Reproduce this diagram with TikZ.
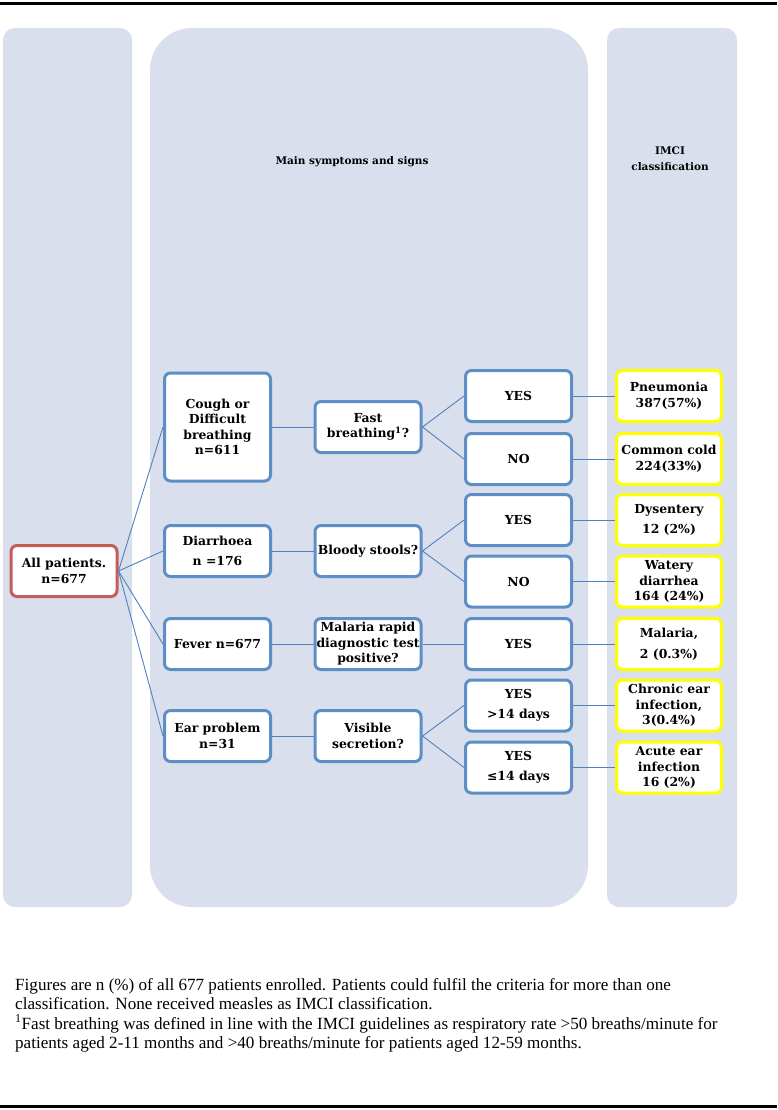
\documentclass[tikz,border=0pt]{standalone}
\usepackage{fontspec}
\setmainfont{Liberation Serif}
\newfontfamily\boxfont{DejaVu Serif}
\usetikzlibrary{positioning}
\definecolor{panelGrey}{RGB}{217,223,236}
\definecolor{boxBlue}{RGB}{93,142,198}
\definecolor{lineBlue}{RGB}{79,129,189}
\definecolor{rootRed}{RGB}{196,92,88}
\definecolor{classYellow}{RGB}{255,255,0}

\begin{document}
\begin{tikzpicture}[
  x=1pt, y=-1pt,
  panel/.style={fill=panelGrey},
  box/.style={draw=boxBlue, line width=3pt, fill=white, rounded corners=6pt,
    minimum width=106pt, minimum height=51pt, align=center, inner sep=1pt,
    font=\boxfont\bfseries\fontsize{12.4}{15.5}\selectfont},
  rootbox/.style={box, draw=rootRed},
  classbox/.style={box, draw=classYellow, minimum width=105pt},
  link/.style={draw=lineBlue, line width=0.9pt},
  head/.style={font=\boxfont\bfseries\fontsize{10.5}{16}\selectfont, align=center},
]
\useasboundingbox (0,0) rectangle (777,1110);

% --- Rules and background panels ------------------------------------
\draw[line width=3pt] (0,3.5) -- (777,3.5);
\draw[line width=3pt] (0,1106) -- (777,1106);
\fill[panel, rounded corners=12pt] (3,28) rectangle (132,907);
\fill[panel, rounded corners=42pt] (150,28) rectangle (588,907);
\fill[panel, rounded corners=12pt] (607,28) rectangle (737,907);

\node[head] (symHead) at (352,162) {Main symptoms and signs};
\node[head] (imciHead) at (670,159) {IMCI\\classification};

% --- Root and main symptoms ------------------------------------------
\node[rootbox] (root) at (64,571) {All patients.\\n=677};

\node[box, minimum height=108pt] (cough) at (217.5,427) {Cough or\\Difficult\\breathing\\n=611};
\node[box] (diar)  at (217.5,551) {Diarrhoea\\[5pt]n =176};
\node[box] (fever) at (217.5,644) {Fever n=677};
\node[box] (ear)   at (217.5,736) {Ear problem\\n=31};

% --- Questions -----------------------------------------------------
\node[box] (fast)   at (368,427) {Fast\\breathing\textsuperscript{1}?};
\node[box] (bloody) at (368,551) {Bloody stools?};
\node[box] (rdt)    at (368,644) {Malaria rapid\\diagnostic test\\positive?};
\node[box] (secr)   at (368,736) {Visible\\secretion?};

% --- Answers ---------------------------------------------------------
\node[box] (yesA) at (518.5,396)   {YES};
\node[box] (noA)  at (518.5,459)   {NO};
\node[box] (yesB) at (518.5,520)   {YES};
\node[box] (noB)  at (518.5,581.5) {NO};
\node[box] (yesC) at (518.5,644)   {YES};
\node[box] (yesD) at (518.5,705.5) {YES\\[5pt]>14 days};
\node[box] (yesE) at (518.5,767.5) {YES\\[5pt]≤14 days};

% --- IMCI classifications ----------------------------------------------
\node[classbox] (pneu)    at (669,396)   {Pneumonia\\387(57\%)};
\node[classbox] (cold)    at (669,459)   {Common cold\\224(33\%)};
\node[classbox] (dys)     at (669,520)   {Dysentery\\[5pt]12 (2\%)};
\node[classbox] (watery)  at (669,581.5) {Watery\\diarrhea\\164 (24\%)};
\node[classbox] (malaria) at (669,644)   {Malaria,\\[5pt]2 (0.3\%)};
\node[classbox] (chronic) at (669,705.5) {Chronic ear\\infection,\\3(0.4\%)};
\node[classbox] (acute)   at (669,767.5) {Acute ear\\infection\\16 (2\%)};

% --- Connectors --------------------------------------------------------
\foreach \child in {cough, diar, fever, ear} {
  \draw[link] (root.east) -- (\child.west);
}
\foreach \from/\to in {cough/fast, diar/bloody, fever/rdt, ear/secr,
                       fast/yesA, fast/noA, bloody/yesB, bloody/noB, rdt/yesC,
                       secr/yesD, secr/yesE,
                       yesA/pneu, noA/cold, yesB/dys, noB/watery, yesC/malaria,
                       yesD/chronic, yesE/acute} {
  \draw[link] (\from.east) -- (\to.west);
}

% --- Notes -------------------------------------------------------------
\node[anchor=north west, align=left, inner sep=0pt,
      font=\fontsize{17.1}{19.5}\selectfont] (notes) at (15,978)
  {Figures are n (\%) of all 677 patients enrolled. Patients could fulfil the criteria for more than one\\
   classification. None received measles as IMCI classification.\\
   \textsuperscript{1}Fast breathing was defined in line with the IMCI guidelines as respiratory rate >50 breaths/minute for\\
   patients aged 2-11 months and >40 breaths/minute for patients aged 12-59 months.};
\end{tikzpicture}
\end{document}
